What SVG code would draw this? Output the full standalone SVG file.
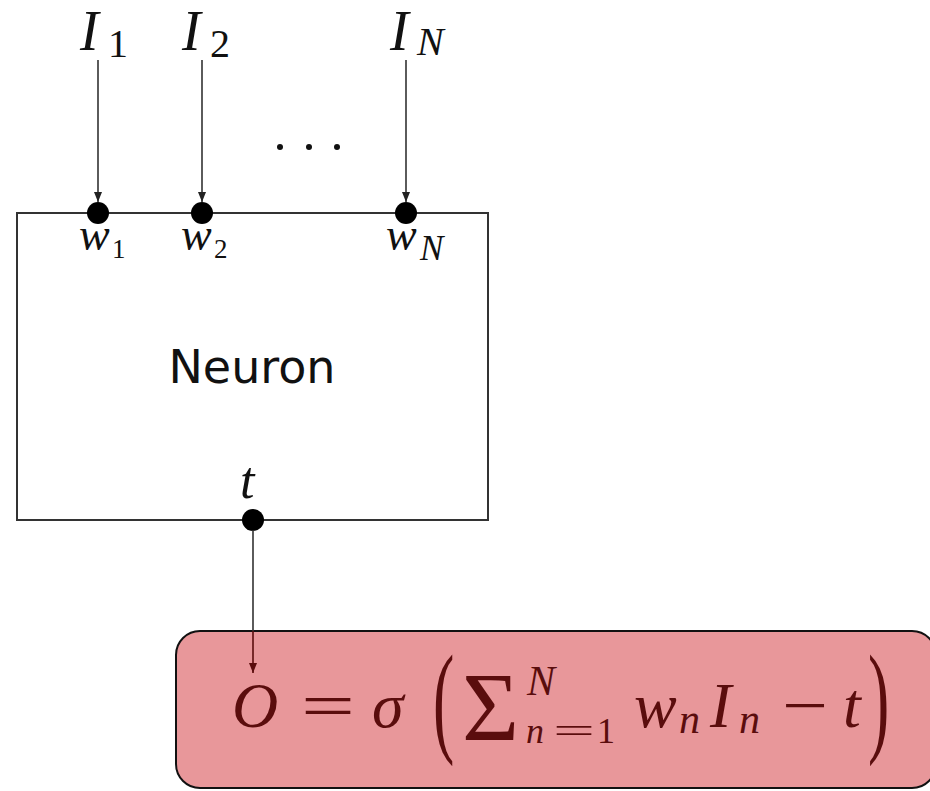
<svg xmlns="http://www.w3.org/2000/svg" width="930" height="791" viewBox="0 0 930 791">
<defs>
<style>
.m{font-family:"Liberation Serif","DejaVu Serif",serif;font-style:italic;fill:#111}
.r{font-family:"Liberation Serif","DejaVu Serif",serif;font-style:normal;fill:#111}
.f{font-family:"Liberation Serif","DejaVu Serif",serif;fill:#5a0d0d}
.fi{font-family:"Liberation Serif","DejaVu Serif",serif;font-style:italic;fill:#5a0d0d}
.line{stroke:#333;stroke-width:1.6;fill:none}
.dot{fill:#000}
</style>
<marker id="ah" viewBox="0 0 10 8" refX="10" refY="4" markerWidth="11" markerHeight="8" markerUnits="userSpaceOnUse" orient="auto">
<path d="M0,0 L10,4 L0,8 Z" fill="#222"/>
</marker>
<marker id="ahr" viewBox="0 0 10 8" refX="10" refY="4" markerWidth="11" markerHeight="8" markerUnits="userSpaceOnUse" orient="auto">
<path d="M0,0 L10,4 L0,8 Z" fill="#5a0d0d"/>
</marker>
</defs>
<rect width="930" height="791" fill="#fff"/>
<g id="neuron">
<rect x="17" y="213" width="471" height="307" fill="#fff" stroke="#333" stroke-width="2"/>
<text x="252" y="383" text-anchor="middle" font-family="'DejaVu Sans','Liberation Sans',sans-serif" font-size="46" fill="#111">Neuron</text>
<circle class="dot" cx="98" cy="213" r="11"/>
<circle class="dot" cx="202" cy="213" r="11"/>
<circle class="dot" cx="406" cy="213" r="11"/>
<circle class="dot" cx="253" cy="520" r="11"/>
<text class="m" x="79" y="250" font-size="46">w</text>
<text class="r" x="112" y="258" font-size="27">1</text>
<text class="m" x="181" y="250" font-size="46">w</text>
<text class="r" x="214" y="258" font-size="27">2</text>
<text class="m" x="386" y="250" font-size="46">w</text>
<text class="m" x="420" y="260" font-size="35">N</text>
<text class="m" x="240" y="498" font-size="52">t</text>
</g>
<g id="inputs">
<text class="m" x="80" y="50" font-size="56">I</text>
<text class="r" x="108" y="57" font-size="40">1</text>
<text class="m" x="182" y="50" font-size="56">I</text>
<text class="r" x="210" y="57" font-size="40">2</text>
<text class="m" x="390" y="50" font-size="56">I</text>
<text class="m" x="417" y="55" font-size="40">N</text>
<g id="ellipsis">
<circle cx="280" cy="147" r="3" fill="#111"/>
<circle cx="309" cy="147" r="3" fill="#111"/>
<circle cx="337" cy="147" r="3" fill="#111"/>
</g>
</g>
<g id="output">
<rect x="176" y="631" width="760" height="157" rx="24" ry="24" fill="#e8979a" stroke="#111" stroke-width="2"/>
<text class="fi" x="232" y="727" font-size="64">O</text>
<text class="f" x="301" y="727" font-size="64" textLength="54" lengthAdjust="spacingAndGlyphs">=</text>
<text class="fi" x="372" y="727" font-size="64">σ</text>
<text class="f" font-size="64" transform="translate(433,740) scale(1,1.93)">(</text>
<text class="f" x="462" y="740" font-size="98">Σ</text>
<text class="fi" x="527" y="695" font-size="42">N</text>
<text class="fi" x="526" y="743" font-size="36">n</text>
<text class="f" x="553" y="743" font-size="36" textLength="42" lengthAdjust="spacingAndGlyphs">=</text>
<text class="f" x="597" y="743" font-size="36">1</text>
<text class="fi" x="634" y="727" font-size="64">w</text>
<text class="fi" x="679" y="733" font-size="42">n</text>
<text class="fi" x="710" y="727" font-size="64">I</text>
<text class="fi" x="739" y="733" font-size="42">n</text>
<text class="f" x="782" y="727" font-size="64" textLength="46" lengthAdjust="spacingAndGlyphs">−</text>
<text class="fi" x="843" y="727" font-size="64">t</text>
<text class="f" font-size="64" transform="translate(868,740) scale(1,1.93)">)</text>
</g>
<g id="connectors">
<line class="line" x1="98" y1="60" x2="98" y2="202" marker-end="url(#ah)"/>
<line class="line" x1="202" y1="60" x2="202" y2="202" marker-end="url(#ah)"/>
<line class="line" x1="406" y1="60" x2="406" y2="202" marker-end="url(#ah)"/>
<line class="line" x1="253" y1="530" x2="253" y2="631"/>
<line x1="253" y1="631" x2="253" y2="673" stroke="#5a0d0d" stroke-width="1.6" marker-end="url(#ahr)"/>
</g>
</svg>
